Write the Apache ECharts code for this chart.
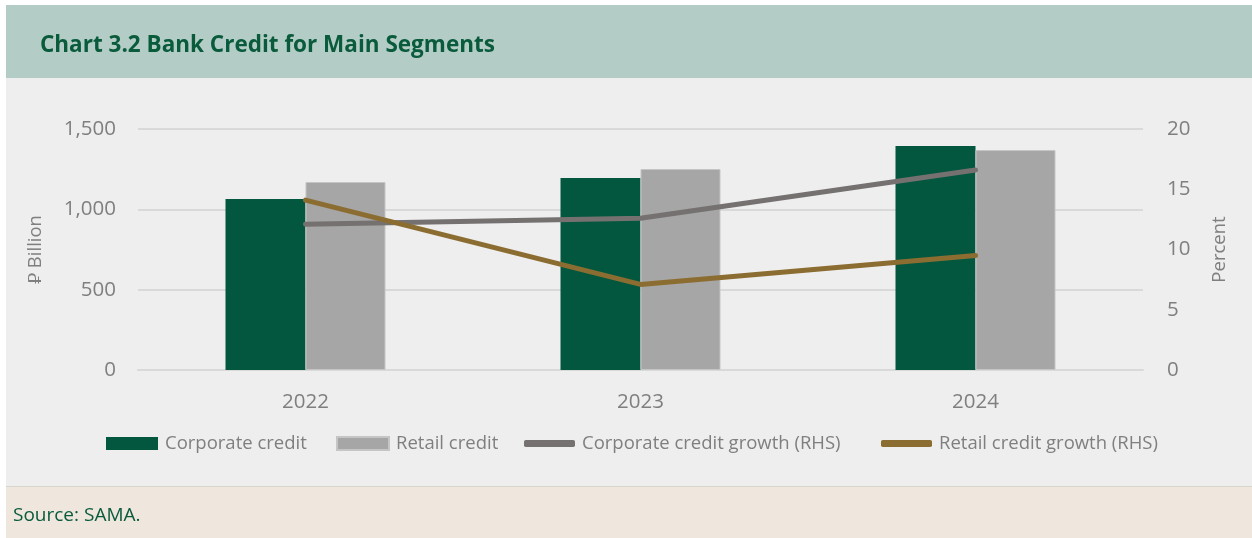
<!DOCTYPE html>
<html>
<head>
<meta charset="utf-8">
<script src="https://cdn.jsdelivr.net/npm/echarts@6/dist/echarts.min.js"></script>
<style>
html,body{margin:0;padding:0;background:#ffffff;}
#chart{width:1252px;height:538px;}
</style>
</head>
<body>
<div id="chart"></div>
<script>
const years = ['2022', '2023', '2024'];
const corporateCredit = [1064, 1195, 1394];
const retailCredit = [1170, 1251, 1369];
const corporateGrowth = [12.1, 12.6, 16.6];
const retailGrowth = [14.1, 7.1, 9.5];
const leftTicks = { min: 0, max: 1500, interval: 500 };
const rightTicks = { min: 0, max: 20, interval: 5 };

const FONT = '"Open Sans", sans-serif';
const GREY_TEXT = '#7f7f7f';
const C_CORP = '#03573f';
const C_RET = '#a5a6a5';
const C_CG = '#767171';
const C_RG = '#8c6d31';

const chart = echarts.init(document.getElementById('chart'), null, { renderer: 'canvas' });

function leg(name, left, icon, w, h) {
  return {
    data: [{ name: name, icon: icon }],
    left: left, top: 434, padding: 0,
    itemWidth: w, itemHeight: h,
    textStyle: { fontFamily: FONT, fontSize: 18.5, color: GREY_TEXT, padding: [0, 0, 0, 2] },
    selectedMode: false
  };
}

chart.setOption({
  backgroundColor: '#ffffff',
  animation: false,
  graphic: [
    { type: 'rect', z: -100, shape: { x: 6, y: 5, width: 1246, height: 73 }, style: { fill: '#b3cdc6' } },
    { type: 'rect', z: -100, shape: { x: 6, y: 78, width: 1246, height: 408 }, style: { fill: '#eeeeee' } },
    { type: 'rect', z: -100, shape: { x: 6, y: 486, width: 1246, height: 1 }, style: { fill: '#d8d5cc' } },
    { type: 'rect', z: -100, shape: { x: 6, y: 487, width: 1246, height: 51 }, style: { fill: '#efe7de' } }
  ],
  title: [
    { text: 'Chart 3.2 Bank Credit for Main Segments', left: 40, top: 34, padding: 0,
      textStyle: { fontFamily: FONT, fontSize: 22.5, fontWeight: 'bold', color: '#0a5a3c' } },
    { text: 'Source: SAMA.', left: 13, top: 506, padding: 0,
      textStyle: { fontFamily: FONT, fontSize: 19, fontWeight: 'normal', color: '#0a5a3c' } }
  ],
  legend: [
    leg('Corporate credit', 106, 'rect', 52, 13),
    leg('Retail credit', 336, 'rect', 52, 13),
    leg('Corporate credit growth (RHS)', 524, 'roundRect', 51, 7),
    leg('Retail credit growth (RHS)', 881, 'roundRect', 51, 7)
  ],
  grid: { left: 138, right: 109, top: 129, bottom: 168, containLabel: false },
  xAxis: {
    type: 'category',
    data: years,
    axisLine: { show: true, lineStyle: { color: '#d9d9d9', width: 2 } },
    axisTick: { show: false },
    axisLabel: { fontFamily: FONT, fontSize: 20.5, color: GREY_TEXT, margin: 22 }
  },
  yAxis: [
    {
      type: 'value', min: leftTicks.min, max: leftTicks.max, interval: leftTicks.interval,
      name: '\u20C1 Billion', nameLocation: 'middle', nameRotate: 90, nameGap: 93,
      nameTextStyle: { fontFamily: FONT, fontSize: 18.5, color: GREY_TEXT },
      axisLine: { show: false }, axisTick: { show: false },
      splitLine: { lineStyle: { color: '#d9d9d9', width: 2 } },
      axisLabel: { fontFamily: FONT, fontSize: 20.5, color: GREY_TEXT, margin: 22,
        formatter: v => v.toLocaleString('en-US') }
    },
    {
      type: 'value', min: rightTicks.min, max: rightTicks.max, interval: rightTicks.interval,
      name: 'Percent', nameLocation: 'middle', nameRotate: 90, nameGap: 67,
      nameTextStyle: { fontFamily: FONT, fontSize: 18.5, color: GREY_TEXT },
      axisLine: { show: false }, axisTick: { show: false },
      splitLine: { show: false },
      axisLabel: { fontFamily: FONT, fontSize: 20.5, color: GREY_TEXT, margin: 24 }
    }
  ],
  series: [
    { name: 'Corporate credit', type: 'bar', data: corporateCredit, barWidth: 80, barGap: '0%',
      itemStyle: { color: C_CORP } },
    { name: 'Retail credit', type: 'bar', data: retailCredit, barWidth: 80, barGap: '0%',
      itemStyle: { color: C_RET, borderColor: '#c4c5c4', borderWidth: 1 } },
    { name: 'Corporate credit growth (RHS)', type: 'line', yAxisIndex: 1, data: corporateGrowth,
      symbol: 'none', itemStyle: { color: C_CG }, lineStyle: { color: C_CG, width: 5, cap: 'round', join: 'round' }, z: 3 },
    { name: 'Retail credit growth (RHS)', type: 'line', yAxisIndex: 1, data: retailGrowth,
      symbol: 'none', itemStyle: { color: C_RG }, lineStyle: { color: C_RG, width: 5, cap: 'round', join: 'round' }, z: 4 }
  ]
});
</script>
</body>
</html>
